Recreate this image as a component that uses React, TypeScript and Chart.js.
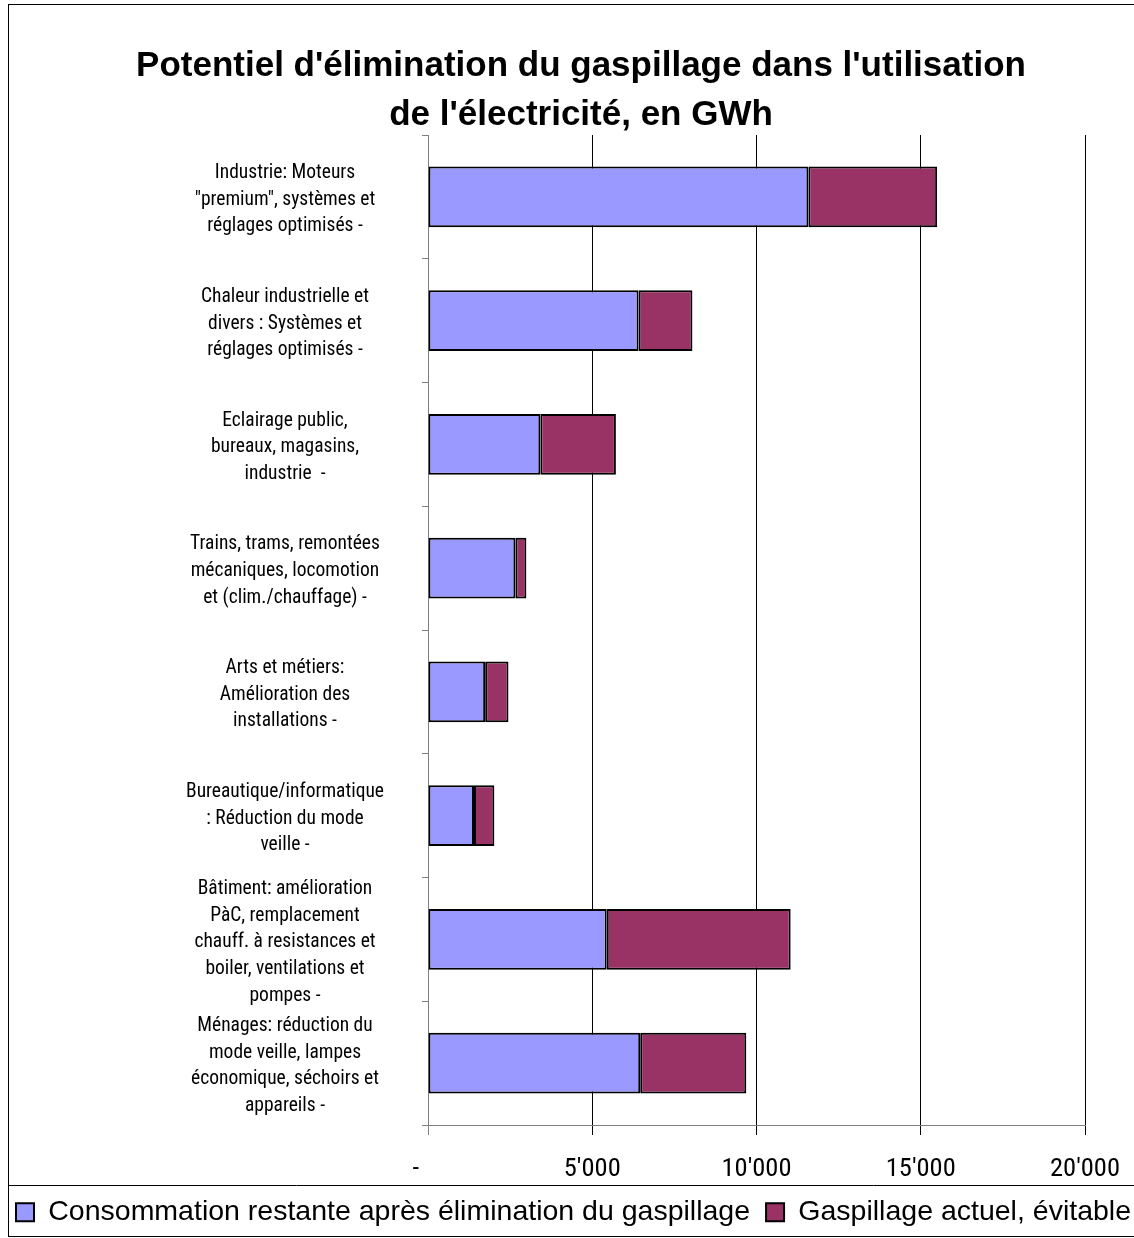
import React, { useEffect, useRef } from 'react';
import { Chart, registerables } from 'chart.js';

Chart.register(...registerables);

// ---------- data ----------
const categories: string[][] = [
  ['Industrie: Moteurs', '"premium", systèmes et', 'réglages optimisés -'],
  ['Chaleur industrielle et', 'divers : Systèmes et', 'réglages optimisés -'],
  ['Eclairage public,', 'bureaux, magasins,', 'industrie  -'],
  ['Trains, trams, remontées', 'mécaniques, locomotion', 'et (clim./chauffage) -'],
  ['Arts et métiers:', 'Amélioration des', 'installations -'],
  ['Bureautique/informatique', ': Réduction du mode', 'veille -'],
  ['Bâtiment: amélioration', 'PàC, remplacement', 'chauff. à resistances et', 'boiler, ventilations et', 'pompes -'],
  ['Ménages: réduction du', 'mode veille, lampes', 'économique, séchoirs et', 'appareils -'],
];
const remaining: number[] = [11580, 6410, 3420, 2660, 1740, 1400, 5440, 6460];
const waste: number[] = [3920, 1640, 2300, 335, 710, 620, 5600, 3230];
const seriesNames: string[] = [
  'Consommation restante après élimination du gaspillage',
  'Gaspillage actuel, évitable',
];
const xTickLabels: string[] = ['-', "5'000", "10'000", "15'000", "20'000"];
const titleLines: string[] = [
  "Potentiel d'élimination du gaspillage dans l'utilisation",
  "de l'électricité, en GWh",
];

// ---------- styling ----------
const W = 1162;
const H = 1238;
const SANS = '"Liberation Sans", Arial, Helvetica, sans-serif';

function hasFont(name: string): boolean {
  const c = document.createElement('canvas').getContext('2d');
  if (!c) return false;
  const s = 'abcdefghijklmnopqrstuvwxyz ABCDEFG 0123456789';
  c.font = `40px monospace`;
  const a = c.measureText(s).width;
  c.font = `40px "${name}", monospace`;
  const b = c.measureText(s).width;
  return Math.abs(a - b) > 0.5;
}

const framePlugin = {
  id: 'frame',
  afterDraw(chart: any) {
    const { ctx } = chart;
    ctx.save();
    ctx.strokeStyle = '#000';
    ctx.lineWidth = 1;
    ctx.strokeRect(8.5, 4.5, chart.width - 17, 1232);
    const lg = chart.legend;
    if (lg) {
      const y = Math.round(lg.top) + 3.5;
      ctx.beginPath();
      ctx.moveTo(8, y);
      ctx.lineTo(chart.width, y);
      ctx.stroke();
    }
    ctx.restore();
  },
};

export default function App() {
  const ref = useRef<HTMLCanvasElement | null>(null);

  useEffect(() => {
    if (!ref.current) return;
    const narrowName = ['Liberation Sans Narrow', 'Roboto Condensed', 'Open Sans Condensed'].find((n) => hasFont(n));
    const NARROW = narrowName ? `"${narrowName}", ${SANS}` : SANS;

    const mc = document.createElement('canvas').getContext('2d')!;
    const widestAt = (size: number) => {
      mc.font = `${size}px ${NARROW}`;
      let w = 0;
      categories.forEach((lines) => lines.forEach((l) => { w = Math.max(w, mc.measureText(l).width); }));
      return w;
    };
    // size the label font so the widest line is ≈ 197px wide (as in the reference), max 21px
    let yFontSize = 21;
    const w21 = widestAt(21);
    if (w21 > 199) yFontSize = Math.round((21 * 197) / w21 * 2) / 2;
    const widest = widestAt(yFontSize);
    const yPad = Math.max(2, 428 - 6 - 285 - widest / 2);

    mc.font = `28px ${NARROW}`;
    const t28 = mc.measureText("10'000").width;
    const xFontSize = Math.min(29, Math.round((28 * 70) / t28 * 2) / 2);

    const chart = new Chart(ref.current, {
      type: 'bar',
      data: {
        labels: categories,
        datasets: [
          {
            label: seriesNames[0],
            data: remaining,
            backgroundColor: '#9999FF',
            borderColor: '#000000',
            borderWidth: 2,
            borderSkipped: false,
          },
          {
            label: seriesNames[1],
            data: waste,
            backgroundColor: '#993366',
            borderColor: '#000000',
            borderWidth: 2,
            borderSkipped: false,
          },
        ],
      },
      options: {
        indexAxis: 'y',
        responsive: false,
        maintainAspectRatio: false,
        devicePixelRatio: 1,
        animation: false,
        barPercentage: 0.49,
        categoryPercentage: 1,
        layout: { padding: { top: 0, left: 0, right: 0, bottom: 1.5 } },
        scales: {
          x: {
            type: 'linear',
            stacked: true,
            min: 0,
            max: 20000,
            ticks: {
              stepSize: 5000,
              autoSkip: false,
              maxRotation: 0,
              padding: 22 - (xFontSize - 25) / 2,
              color: '#000',
              font: { family: NARROW, size: xFontSize, lineHeight: 1.0 },
              callback: (_v: any, i: number) => (i === 0 ? xTickLabels[0] + '    ' : xTickLabels[i] ?? ''),
            },
            grid: {
              color: (c: any) => (c.tick && c.tick.value === 0 ? '#808080' : '#000000'),
              lineWidth: 1,
              tickLength: 10,
              drawOnChartArea: true,
            },
            border: { color: '#808080', width: 1 },
            afterFit: (s: any) => { s.height = 57; },
          },
          y: {
            type: 'category',
            stacked: true,
            ticks: {
              autoSkip: false,
              crossAlign: 'center',
              padding: yPad,
              labelOffset: 3,
              color: '#000',
              font: { family: NARROW, size: yFontSize, lineHeight: 26.7 / yFontSize },
            },
            grid: { drawOnChartArea: false, tickLength: 6, color: '#808080', offset: true },
            border: { color: '#808080', width: 1 },
            afterFit: (s: any) => { s.width = 428; },
          },
          rightSpace: {
            type: 'linear',
            position: 'right',
            display: true,
            grid: { display: false, drawTicks: false },
            border: { display: false },
            ticks: { display: false },
            afterFit: (s: any) => { s.width = 77; },
          },
        },
        plugins: {
          title: {
            display: true,
            text: titleLines,
            color: '#000',
            font: { family: SANS, size: 35, weight: 'bold', lineHeight: 1.4 },
            padding: { top: 42, bottom: -5 },
          },
          legend: {
            display: true,
            position: 'bottom',
            align: 'start',
            labels: {
              color: '#000',
              boxWidth: 18,
              boxHeight: 18,
              padding: 16,
              font: { family: SANS, size: 28.5 },
            },
          },
          tooltip: { enabled: false },
        },
      } as any,
      plugins: [framePlugin],
    });

    return () => chart.destroy();
  }, []);

  return (
    <div
      style={{
        position: 'absolute',
        left: 0,
        top: 0,
        width: 1134,
        height: H,
        overflow: 'hidden',
        background: '#fff',
      }}
    >
      <canvas ref={ref} width={W} height={H} style={{ display: 'block', width: W, height: H }} />
    </div>
  );
}
